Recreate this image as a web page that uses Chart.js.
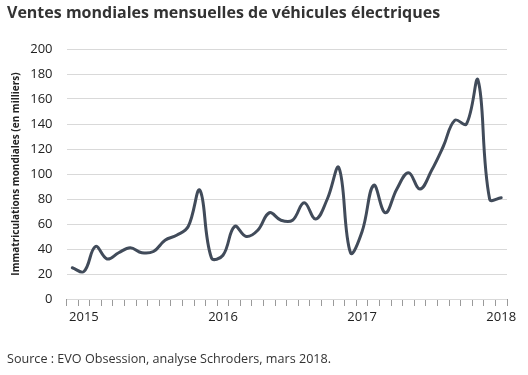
<!DOCTYPE html>
<html>
<head>
<meta charset="utf-8">
<script src="https://cdn.jsdelivr.net/npm/chart.js@4/dist/chart.umd.min.js"></script>
<style>
  html, body { margin: 0; padding: 0; background: #fff; }
  #wrap { position: relative; width: 528px; height: 375px; overflow: hidden; }
  #c { position: absolute; left: 0; top: 0; }
  .title { position: absolute; left: 7px; top: 1px; font-family: "Open Sans", sans-serif; font-weight: 700; font-size: 16px; color: #333; white-space: nowrap; }
  .source { position: absolute; left: 7px; top: 350px; font-family: "Open Sans", sans-serif; font-size: 12.6px; color: #333; white-space: nowrap; }
</style>
</head>
<body>
<div id="wrap">
  <canvas id="c" width="528" height="375"></canvas>
  <div class="title">Ventes mondiales mensuelles de véhicules électriques</div>
  <div class="source">Source : EVO Obsession, analyse Schroders, mars 2018.</div>
</div>
<script>
const categories = [
  '2015-01','2015-02','2015-03','2015-04','2015-05','2015-06','2015-07','2015-08','2015-09','2015-10','2015-11','2015-12',
  '2016-01','2016-02','2016-03','2016-04','2016-05','2016-06','2016-07','2016-08','2016-09','2016-10','2016-11','2016-12',
  '2017-01','2017-02','2017-03','2017-04','2017-05','2017-06','2017-07','2017-08','2017-09','2017-10','2017-11','2017-12',
  '2018-01','2018-02'
];
const sales = [
  25, 22, 42, 32, 37, 41, 37, 38, 47, 51, 58, 87,
  33, 35, 58, 50, 55, 69, 63, 63, 77, 64, 80, 105,
  37, 54, 91, 69, 88, 101, 88, 103, 122, 143, 140, 175,
  80, 81
];
const xTickLabels = [
  '', '2015', '', '', '', '', '', '', '', '', '', '',
  '', '2016', '', '', '', '', '', '', '', '', '', '',
  '', '2017', '', '', '', '', '', '', '', '', '', '',
  '', '2018'
];
const yTitle = 'Immatriculations mondiales (en milliers)';

new Chart(document.getElementById('c'), {
  type: 'line',
  data: {
    labels: categories,
    datasets: [{
      data: sales,
      borderColor: '#414b5a',
      borderWidth: 3,
      tension: 0.4,
      pointRadius: 0,
      fill: false,
      borderCapStyle: 'round',
      borderJoinStyle: 'round'
    }]
  },
  options: {
    responsive: false,
    devicePixelRatio: 1,
    animation: false,
    layout: { padding: { left: 0, top: 49, right: 21, bottom: 40 } },
    plugins: { legend: { display: false }, tooltip: { enabled: false }, title: { display: false } },
    scales: {
      x: {
        type: 'category',
        offset: true,
        afterFit: (s) => { s.height = 36; },
        border: { display: false },
        grid: { offset: true, drawOnChartArea: false, drawTicks: true, tickLength: 7, color: '#9a9a9a', lineWidth: 1 },
        ticks: {
          autoSkip: false,
          maxRotation: 0,
          padding: 3,
          color: '#222',
          font: { family: 'Open Sans', size: 13 },
          callback: (v, i) => xTickLabels[i]
        }
      },
      y: {
        min: 0,
        max: 200,
        afterFit: (s) => { s.width = 66.5; },
        border: { display: false },
        grid: { drawTicks: false, color: '#d9d9d9', lineWidth: 1 },
        ticks: {
          stepSize: 20,
          padding: 14,
          color: '#222',
          font: { family: 'Open Sans', size: 13 }
        },
        title: {
          display: true,
          text: yTitle,
          color: '#222',
          font: { family: 'Open Sans', size: 10, weight: 'bold' },
          padding: { top: 10, bottom: 0 }
        }
      }
    }
  }
});
</script>
</body>
</html>
